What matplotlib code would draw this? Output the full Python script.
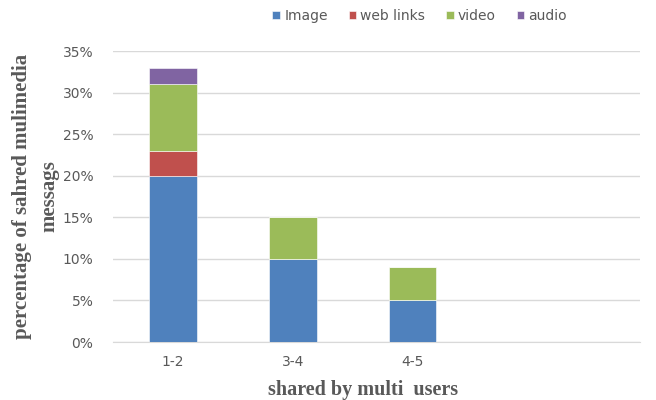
import numpy as np
import matplotlib.pyplot as plt
from matplotlib.ticker import FuncFormatter

# data (percent of shared multimedia messages)
categories = ['1-2', '3-4', '4-5']
image = [20, 10, 5]
web_links = [3, 0, 0]
video = [8, 5, 4]
audio = [2, 0, 0]

series = [('Image', image, '#4F81BD'),
          ('web links', web_links, '#C0504D'),
          ('video', video, '#9BBB59'),
          ('audio', audio, '#8064A2')]

fig = plt.figure(figsize=(6.56, 4.0), dpi=100)
ax = fig.add_axes([0.172, 0.145, 0.804, 0.7275])

x = np.arange(len(categories))
bottom = np.zeros(len(categories))
for name, vals, col in series:
    vals = np.array(vals, dtype=float)
    ax.bar(x, vals, width=0.4, bottom=bottom, color=col, label=name,
           edgecolor='white', linewidth=0.4, zorder=3)
    bottom += vals

ax.set_xlim(-0.5, 3.9)
ax.set_ylim(0, 35)
ax.set_yticks(np.arange(0, 36, 5))
ax.yaxis.set_major_formatter(FuncFormatter(lambda v, p: f'{v:.0f}%'))
ax.set_xticks(x)
ax.set_xticklabels(categories)

ax.grid(axis='y', color='#D9D9D9', linewidth=1, zorder=0)
for s in ['top', 'right', 'left']:
    ax.spines[s].set_visible(False)
ax.spines['bottom'].set_color('#D9D9D9')
ax.tick_params(axis='both', length=0, colors='#595959', labelsize=10)
ax.tick_params(axis='x', pad=9)
ax.tick_params(axis='y', pad=14)

ax.set_xlabel('shared by multi  users', family='Liberation Serif', fontweight='bold',
              fontsize=14.5, color='#595959')
ax.xaxis.set_label_coords(0.475, -0.13)
ax.set_ylabel('percentage of sahred mulimedia\nmessags', family='Liberation Serif',
              fontweight='bold', fontsize=15, color='#595959',
              linespacing=1.45)
ax.yaxis.set_label_coords(-0.102, 0.5)

leg = fig.legend(loc='center', bbox_to_anchor=(0.64, 0.96), ncol=4, frameon=False,
                 fontsize=10, handlelength=0.55, handleheight=0.55, handletextpad=0.3,
                 columnspacing=1.5)
for t in leg.get_texts():
    t.set_color('#595959')

fig.savefig('out.png', dpi=100)
